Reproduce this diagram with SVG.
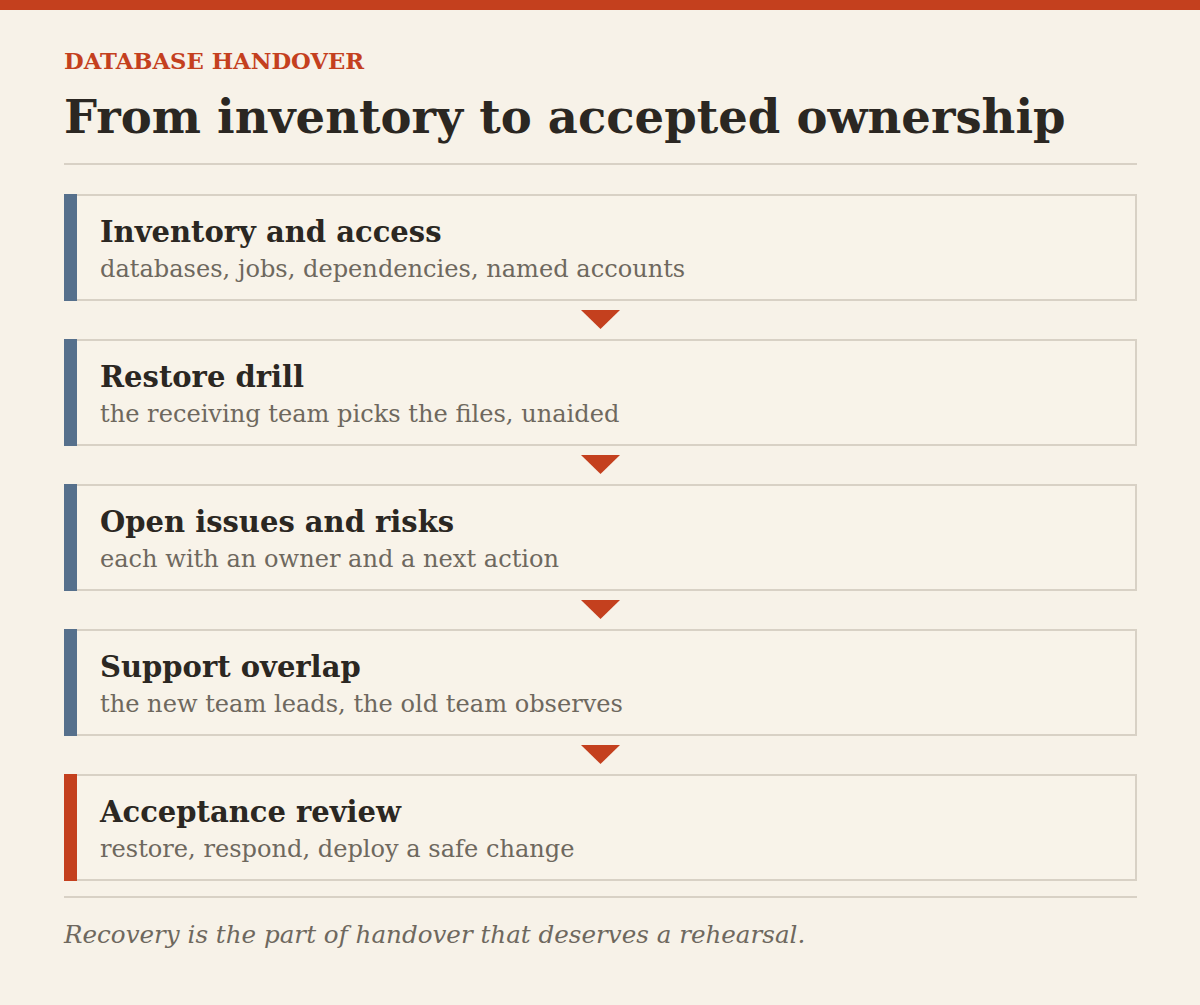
<svg xmlns="http://www.w3.org/2000/svg" width="1200" height="1005" viewBox="0 0 1200 1005">
<style>
.kicker{font-family:"DejaVu Serif","Liberation Serif",serif;font-weight:bold;font-size:22.7px;fill:#C4401E}
.title{font-family:"DejaVu Serif","Liberation Serif",serif;font-weight:bold;font-size:46.5px;fill:#2B2722}
.rule{stroke:#D8D1C5;stroke-width:2}
.box{fill:#F8F3E9;stroke:#D8D1C5;stroke-width:2}
.h{font-family:"DejaVu Serif","Liberation Serif",serif;font-weight:bold;font-size:29px;fill:#2B2722}
.s{font-family:"DejaVu Serif","Liberation Serif",serif;font-size:24.1px;fill:#6E685E}
.foot{font-family:"DejaVu Serif","Liberation Serif",serif;font-style:italic;font-size:24.6px;fill:#6E685E}
.arrow{fill:#C4401E}
</style>
<rect width="1200" height="1005" fill="#F7F2E8"/>
<rect x="0" y="0" width="1200" height="10" fill="#C4401E"/>
<text class="kicker" x="64" y="69">DATABASE HANDOVER</text>
<text class="title" x="64" y="133">From inventory to accepted ownership</text>
<line class="rule" x1="64" y1="164" x2="1137" y2="164"/>
<g id="node1"><rect class="box" x="76" y="195" width="1060" height="105"/><rect x="64" y="194" width="13" height="107" fill="#56708C"/><text class="h" x="100" y="242">Inventory and access</text><text class="s" x="100" y="277">databases, jobs, dependencies, named accounts</text></g>
<g id="node2"><rect class="box" x="76" y="340" width="1060" height="105"/><rect x="64" y="339" width="13" height="107" fill="#56708C"/><text class="h" x="100" y="387">Restore drill</text><text class="s" x="100" y="422">the receiving team picks the files, unaided</text></g>
<g id="node3"><rect class="box" x="76" y="485" width="1060" height="105"/><rect x="64" y="484" width="13" height="107" fill="#56708C"/><text class="h" x="100" y="532">Open issues and risks</text><text class="s" x="100" y="567">each with an owner and a next action</text></g>
<g id="node4"><rect class="box" x="76" y="630" width="1060" height="105"/><rect x="64" y="629" width="13" height="107" fill="#56708C"/><text class="h" x="100" y="677">Support overlap</text><text class="s" x="100" y="712">the new team leads, the old team observes</text></g>
<g id="node5"><rect class="box" x="76" y="775" width="1060" height="105"/><rect x="64" y="774" width="13" height="107" fill="#C4401E"/><text class="h" x="100" y="822">Acceptance review</text><text class="s" x="100" y="857">restore, respond, deploy a safe change</text></g>
<g id="connectors">
<polygon class="arrow" points="581,310 620,310 600.5,329"/>
<polygon class="arrow" points="581,455 620,455 600.5,474"/>
<polygon class="arrow" points="581,600 620,600 600.5,619"/>
<polygon class="arrow" points="581,745 620,745 600.5,764"/>
</g>
<line class="rule" x1="64" y1="897" x2="1137" y2="897"/>
<text class="foot" x="64" y="943">Recovery is the part of handover that deserves a rehearsal.</text>
</svg>
